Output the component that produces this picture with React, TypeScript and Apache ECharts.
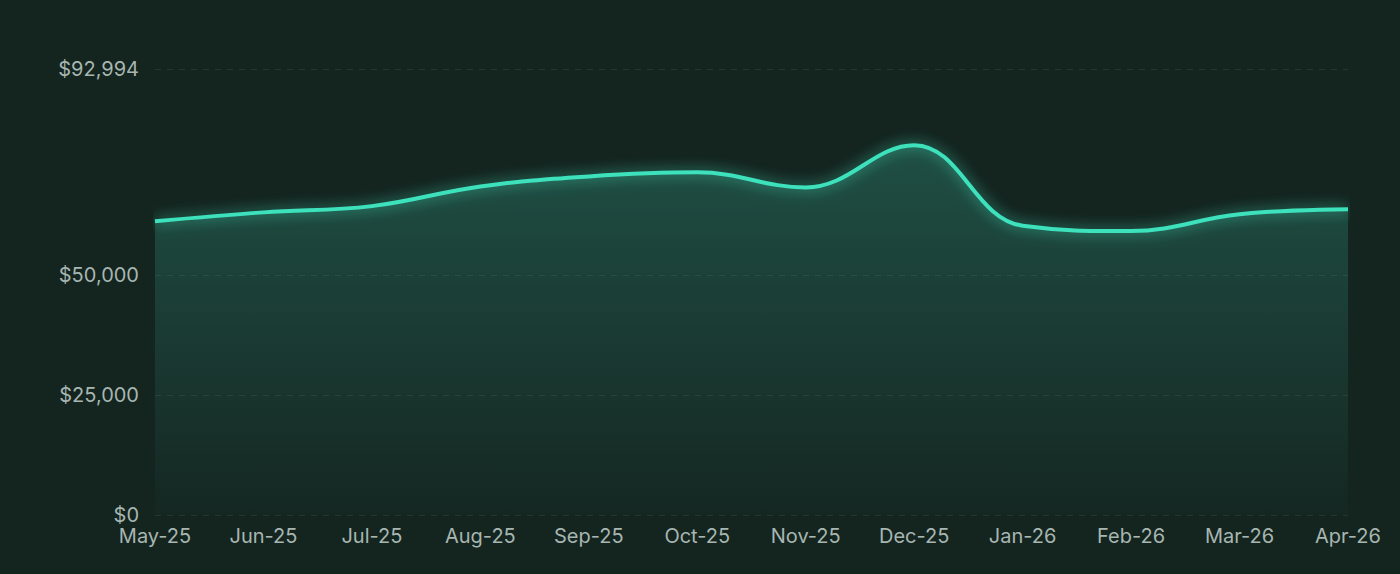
import { useEffect, useRef } from 'react'
import * as echarts from 'echarts'

// monthly values
const months = ['May-25', 'Jun-25', 'Jul-25', 'Aug-25', 'Sep-25', 'Oct-25', 'Nov-25', 'Dec-25', 'Jan-26', 'Feb-26', 'Mar-26', 'Apr-26']
const values = [61250, 63100, 64400, 68500, 70600, 71450, 68300, 77100, 60300, 59200, 62700, 63750]
const yTicks = [0, 25000, 50000, 92994]
const yMax = 92994

const fmt = (v: number) => '$' + v.toLocaleString('en-US')

export default function App() {
  const ref = useRef<HTMLDivElement>(null)

  useEffect(() => {
    if (!ref.current) return
    const chart = echarts.init(ref.current, null, { renderer: 'svg' })

    const option: echarts.EChartsOption = {
      animation: false,
      backgroundColor: '#14241f',
      textStyle: { fontFamily: 'Inter' },
      grid: { left: 155, right: 52, top: 69, bottom: 59 },
      xAxis: {
        type: 'category',
        data: months,
        boundaryGap: false,
        axisLine: { show: false },
        axisTick: { show: false },
        axisLabel: { color: '#a7b6b1', fontSize: 20, margin: 11 },
      },
      yAxis: {
        type: 'value',
        min: 0,
        max: yMax,
        axisLine: { show: false },
        axisTick: { show: false, customValues: yTicks },
        axisLabel: {
          color: '#a7b6b1',
          fontSize: 20,
          margin: 16,
          customValues: yTicks,
          formatter: (v: number) => fmt(v),
        },
        splitLine: { lineStyle: { color: 'rgba(255,255,255,0.08)', type: [6, 6] } },
      },
      series: [
        {
          type: 'line',
          data: values,
          smooth: 0.4,
          symbol: 'none',
          lineStyle: {
            color: '#3de1bb',
            width: 4,
            shadowColor: 'rgba(61,225,187,0.8)',
            shadowBlur: 14,
          },
          areaStyle: {
            color: new echarts.graphic.LinearGradient(0, 0, 0, 1, [
              { offset: 0, color: 'rgba(58,181,158,0.42)' },
              { offset: 1, color: 'rgba(58,181,158,0.03)' },
            ]),
          },
        },
      ],
    }
    chart.setOption(option)

    return () => chart.dispose()
  }, [])

  return (
    <div style={{ position: 'fixed', left: 0, top: 0 }}>
      <div ref={ref} style={{ width: 1400, height: 574 }} />
    </div>
  )
}
